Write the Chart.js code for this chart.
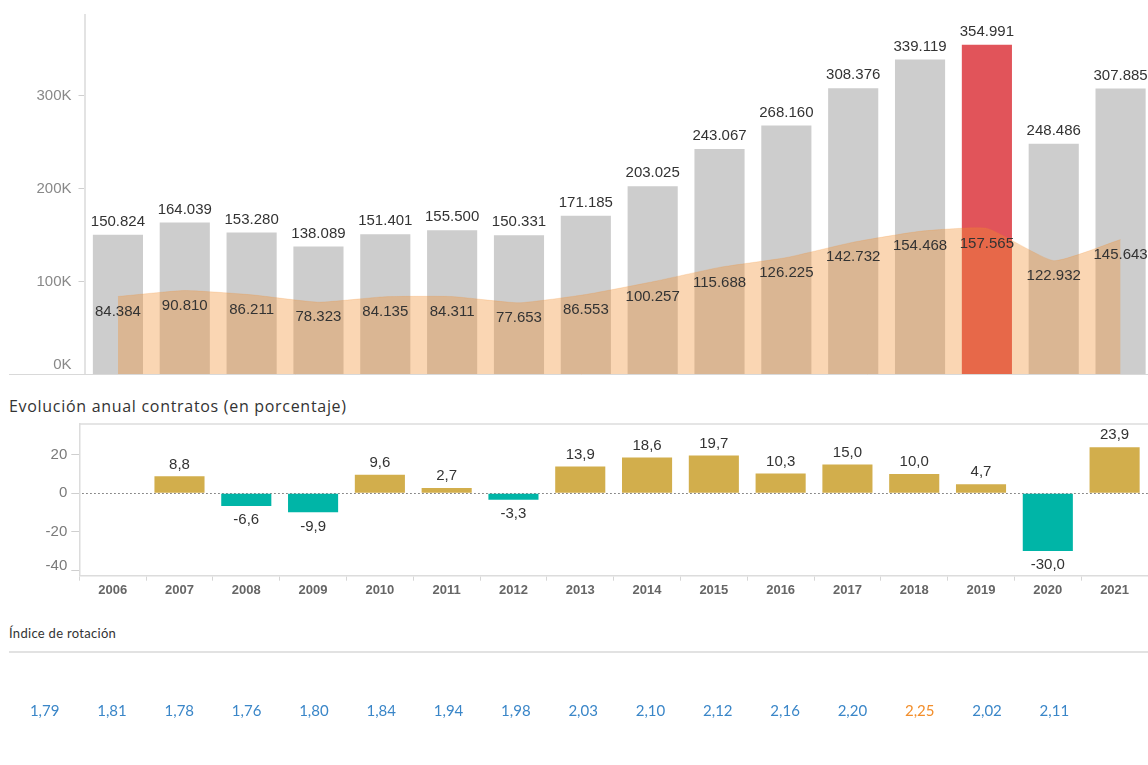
<!DOCTYPE html>
<html>
<head>
<meta charset="utf-8">
<script src="https://cdn.jsdelivr.net/npm/chart.js@4.4.1/dist/chart.umd.min.js"></script>
<style>
html,body{margin:0;padding:0;background:#fff;overflow:hidden;width:1148px;height:765px;}
#wrap{position:relative;width:1148px;height:765px;overflow:hidden;}
canvas{position:absolute;}
#c1{left:0;top:0;}
#c2{left:0;top:414px;}
#c3{left:11px;top:695px;}
.t{position:absolute;color:#333;font-family:"Open Sans",Lato,sans-serif;white-space:nowrap;}
#title2{left:9px;top:395px;font-size:16px;letter-spacing:0.7px;}
#title3{left:9px;top:625px;font-size:13px;letter-spacing:0.3px;font-family:Lato,"Open Sans",sans-serif;}
#rule{position:absolute;left:9px;top:651px;width:1139px;height:0;border-top:2px solid #e2e2e2;}
</style>
</head>
<body>
<div id="wrap">
<canvas id="c1" width="1154" height="375" style="width:1154px;height:375px"></canvas>
<div class="t" id="title2">Evolución anual contratos (en porcentaje)</div>
<canvas id="c2" width="1148" height="186" style="width:1148px;height:186px"></canvas>
<div class="t" id="title3">Índice de rotación</div>
<div id="rule"></div>
<canvas id="c3" width="1077" height="32" style="width:1077px;height:32px"></canvas>
</div>
<script>
// ---- DATA ----
const years = ['2006','2007','2008','2009','2010','2011','2012','2013','2014','2015','2016','2017','2018','2019','2020','2021'];
const contratos = [150824,164039,153280,138089,151401,155500,150331,171185,203025,243067,268160,308376,339119,354991,248486,307885];
const personas = [84384,90810,86211,78323,84135,84311,77653,86553,100257,115688,126225,142732,154468,157565,122932,145643];
const evolucion = [null,8.8,-6.6,-9.9,9.6,2.7,-3.3,13.9,18.6,19.7,10.3,15.0,10.0,4.7,-30.0,23.9];
const rotacion = [1.79,1.81,1.78,1.76,1.80,1.84,1.94,1.98,2.03,2.10,2.12,2.16,2.20,2.25,2.02,2.11];
const topTicks = [0,100000,200000,300000];
const midTicks = [-40,-20,0,20];
const highlightYear = '2019';

// ---- helpers ----
const fmtThousands = v => String(v).replace(/\B(?=(\d{3})+(?!\d))/g, '.');
const fmtDec = (v, d) => v.toFixed(d).replace('.', ',');
const NUMFONT = '15px "Liberation Sans", Arial, sans-serif';

function yLabelPlugin(o) {
  return {
    id: 'yLabels',
    afterDraw(chart) {
      const s = chart.scales.y, a = chart.chartArea, ctx = chart.ctx;
      ctx.save();
      ctx.font = o.font; ctx.fillStyle = o.color;
      ctx.textAlign = 'right'; ctx.textBaseline = 'middle';
      s.ticks.forEach(t => {
        let y = s.getPixelForValue(t.value);
        y = Math.min(y, a.bottom - o.clamp);
        ctx.fillText(o.fmt(t.value), a.left - o.gap, y);
      });
      ctx.restore();
    }
  };
}

// ---- TOP CHART ----
new Chart(document.getElementById('c1'), {
  type: 'bar',
  data: {
    labels: years,
    datasets: [
      { type: 'line', data: personas, fill: 'origin',
        backgroundColor: 'rgba(242,142,43,0.36)', borderColor: 'rgba(242,142,43,0.2)',
        borderWidth: 1, pointRadius: 0, tension: 0.15, order: 1 },
      { type: 'bar', data: contratos,
        backgroundColor: years.map(y => y === highlightYear ? '#e1545a' : '#cdcdcd'),
        barPercentage: 0.75, categoryPercentage: 1, order: 2 }
    ]
  },
  options: {
    responsive: false, devicePixelRatio: 1, animation: false, events: [],
    layout: { padding: { top: 15, right: 0, bottom: 0, left: 0 } },
    plugins: { legend: { display: false }, tooltip: { enabled: false } },
    scales: {
      x: { display: false, offset: true },
      y: { min: 0, max: 387000,
           afterFit: s => { s.width = 84.5; },
           afterBuildTicks: s => { s.ticks = topTicks.map(v => ({ value: v })); },
           ticks: { display: false },
           grid: { drawOnChartArea: false, tickLength: 6, color: '#cfcfcf' },
           border: { color: '#e3e3e3', width: 2 } }
    }
  },
  plugins: [
    yLabelPlugin({ font: '15px "Liberation Sans", Arial, sans-serif', color: '#888', gap: 13, clamp: 10,
                   fmt: v => (v / 1000) + 'K' }),
    {
      id: 'topExtras',
      afterDraw(chart) {
        const ctx = chart.ctx, a = chart.chartArea;
        ctx.save();
        ctx.strokeStyle = '#d9d9d9'; ctx.lineWidth = 1;
        ctx.beginPath(); ctx.moveTo(9, a.bottom - 0.5); ctx.lineTo(chart.width, a.bottom - 0.5); ctx.stroke();
        ctx.font = NUMFONT; ctx.fillStyle = '#333'; ctx.textAlign = 'center'; ctx.textBaseline = 'middle';
        const mb = chart.getDatasetMeta(1).data, ml = chart.getDatasetMeta(0).data;
        mb.forEach((el, i) => ctx.fillText(fmtThousands(contratos[i]), el.x, el.y - 13));
        ml.forEach((el, i) => ctx.fillText(fmtThousands(personas[i]), el.x, el.y + 15));
        ctx.restore();
      }
    }
  ]
});

// ---- MIDDLE CHART ----
new Chart(document.getElementById('c2'), {
  type: 'bar',
  data: {
    labels: years,
    datasets: [{
      data: evolucion,
      backgroundColor: evolucion.map(v => v !== null && v < 0 ? '#00b5a7' : '#d2ae4c'),
      barPercentage: 0.75, categoryPercentage: 1
    }]
  },
  options: {
    responsive: false, devicePixelRatio: 1, animation: false, events: [],
    layout: { padding: { top: 10, right: 0, bottom: 0, left: 0 } },
    plugins: { legend: { display: false }, tooltip: { enabled: false } },
    scales: {
      x: { offset: true,
           afterFit: s => { s.height = 24.3; },
           ticks: { color: '#666', font: { family: '"Liberation Sans", Arial, sans-serif', size: 13, weight: 'bold' }, padding: 2, maxRotation: 0 },
           grid: { drawOnChartArea: false, offset: true, tickLength: 5, color: '#d6d6d6' },
           border: { color: '#dcdcdc', width: 1.5 } },
      y: { min: -42.8, max: 36,
           afterFit: s => { s.width = 79.3; },
           afterBuildTicks: s => { s.ticks = midTicks.map(v => ({ value: v })); },
           ticks: { display: false },
           grid: { drawOnChartArea: false, tickLength: 8, color: '#cfcfcf' },
           border: { color: '#dcdcdc', width: 1.5 } }
    }
  },
  plugins: [
    yLabelPlugin({ font: '15px "Liberation Sans", Arial, sans-serif', color: '#7a7a7a', gap: 12, clamp: 10,
                   fmt: v => String(v) }),
    {
      id: 'midExtras',
      beforeDatasetsDraw(chart) {
        const ctx = chart.ctx, a = chart.chartArea, y0 = chart.scales.y.getPixelForValue(0);
        ctx.save();
        ctx.strokeStyle = '#dcdcdc'; ctx.lineWidth = 1.5;
        ctx.beginPath(); ctx.moveTo(a.left, a.top); ctx.lineTo(a.right, a.top); ctx.stroke();
        ctx.strokeStyle = '#555'; ctx.lineWidth = 1.2; ctx.setLineDash([1.3, 2.7]);
        ctx.beginPath(); ctx.moveTo(a.left + 3, Math.round(y0) + 0.5); ctx.lineTo(a.right, Math.round(y0) + 0.5); ctx.stroke();
        ctx.restore();
      },
      afterDatasetsDraw(chart) {
        const ctx = chart.ctx;
        ctx.save();
        ctx.font = NUMFONT; ctx.fillStyle = '#333'; ctx.textAlign = 'center'; ctx.textBaseline = 'middle';
        chart.getDatasetMeta(0).data.forEach((el, i) => {
          const v = evolucion[i];
          if (v === null) return;
          if (v >= 0) ctx.fillText(fmtDec(v, 1), el.x, el.y - 12);
          else ctx.fillText(fmtDec(v, 1), el.x, el.y + 14);
        });
        ctx.restore();
      }
    }
  ]
});

// ---- BOTTOM ROW (rotation index) ----
new Chart(document.getElementById('c3'), {
  type: 'line',
  data: { labels: years, datasets: [{ data: rotacion, showLine: false, pointRadius: 0 }] },
  options: {
    responsive: false, devicePixelRatio: 1, animation: false, events: [],
    layout: { padding: 0 },
    plugins: { legend: { display: false }, tooltip: { enabled: false } },
    scales: { x: { display: false, offset: true }, y: { display: false } }
  },
  plugins: [{
    id: 'rotText',
    afterDatasetsDraw(chart) {
      const ctx = chart.ctx, a = chart.chartArea;
      ctx.save();
      ctx.font = '15px Lato, "Open Sans", sans-serif';
      ctx.textAlign = 'center'; ctx.textBaseline = 'middle';
      chart.getDatasetMeta(0).data.forEach((el, i) => {
        ctx.fillStyle = years[i] === highlightYear ? '#f28e2b' : '#3a86c8';
        ctx.fillText(fmtDec(rotacion[i], 2), el.x, (a.top + a.bottom) / 2);
      });
      ctx.restore();
    }
  }]
});
</script>
</body>
</html>
